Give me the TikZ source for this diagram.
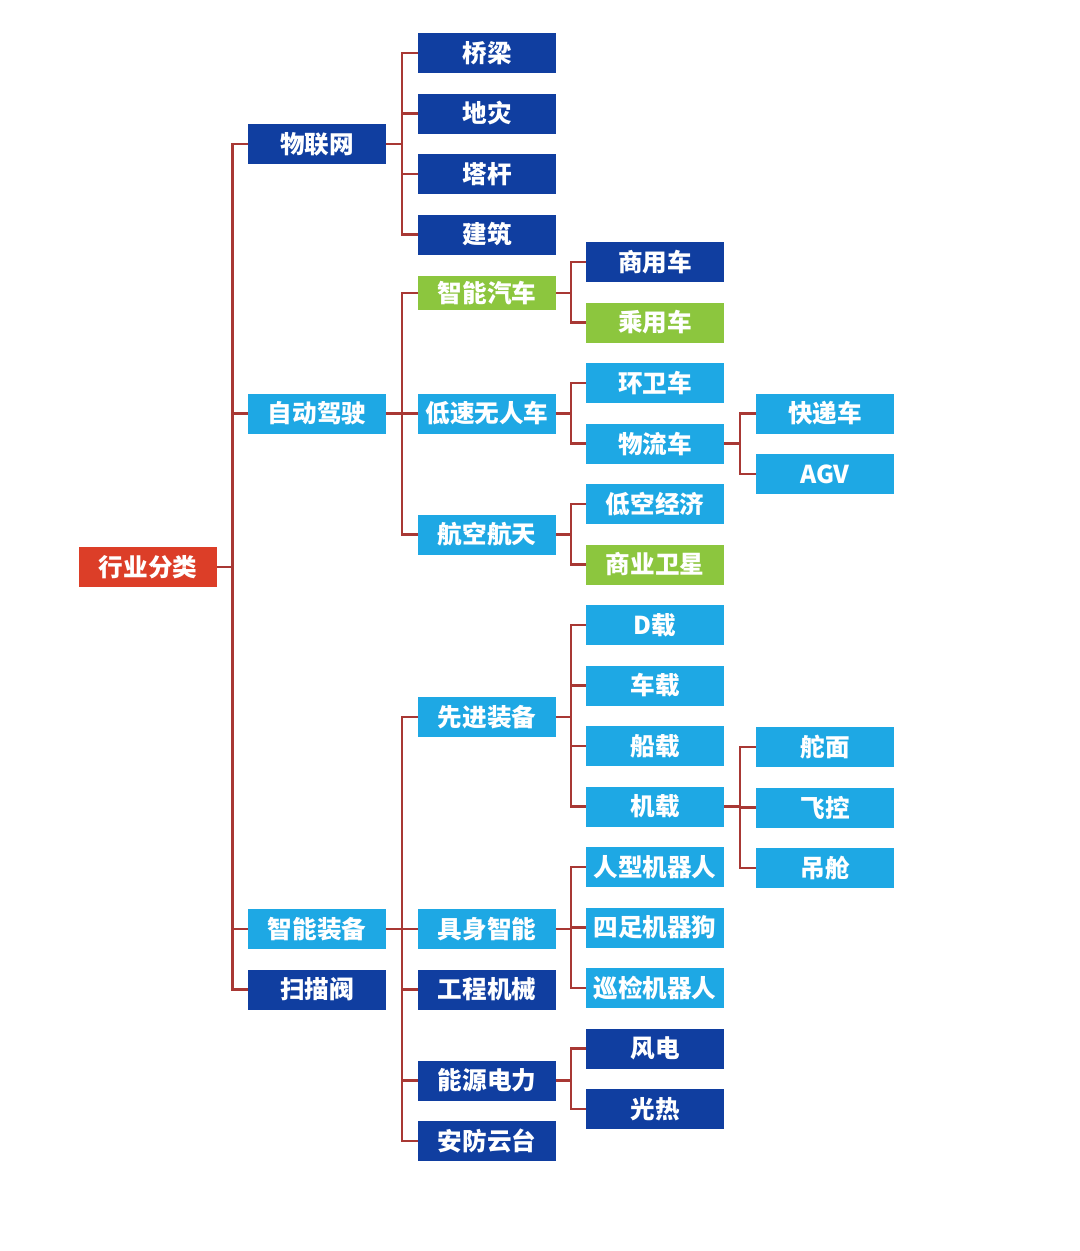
\documentclass[tikz,border=0pt]{standalone}
\usepackage{fontspec}
\usepackage{tikz}
\usetikzlibrary{positioning}

\newfontfamily\cjk{Noto Sans CJK SC}

\definecolor{darkblue}{RGB}{16,62,160}
\definecolor{lightblue}{RGB}{30,168,228}
\definecolor{leafgreen}{RGB}{140,198,62}
\definecolor{rootred}{RGB}{220,62,40}
\definecolor{linkred}{RGB}{168,56,52}

\begin{document}
\begin{tikzpicture}[
    node distance=0.41cm and 0.62cm,
    box/.style={rectangle, minimum width=2.76cm, minimum height=0.8cm, inner sep=0pt, outer sep=0pt,
                text=white, font=\cjk\bfseries\fontsize{14pt}{16pt}\selectfont},
    darkbox/.style={box, fill=darkblue},
    lightbox/.style={box, fill=lightblue},
    greenbox/.style={box, fill=leafgreen},
    rootbox/.style={box, fill=rootred},
    link/.style={draw=linkred, line width=1.5pt}
    ]
    \useasboundingbox (0,0) rectangle (21.6,-25.02);

    % Nodes
    \node[rootbox] (root) at (2.96,-11.34) {行业分类};

    \node[darkbox] (wlw) at (6.34,-2.88) {物联网};
    \node[lightbox] (zdjs) at (6.34,-8.27) {自动驾驶};
    \node[lightbox] (znzb) at (6.34,-18.58) {智能装备};
    \node[darkbox, below=of znzb] (smf) {扫描阀};

    \node[darkbox] (ql) at (9.74,-1.06) {桥梁};
    \node[darkbox, below=of ql] (dz) {地灾};
    \node[darkbox, below=of dz] (tg) {塔杆};
    \node[darkbox, below=of tg] (jz) {建筑};
    \node[greenbox, minimum height=0.68cm] (znqc) at (9.74,-5.86) {智能汽车};
    \node[lightbox] (dswrc) at (9.74,-8.27) {低速无人车};
    \node[lightbox] (hkht) at (9.74,-10.69) {航空航天};
    \node[lightbox] (xjzb) at (9.74,-14.34) {先进装备};
    \node[lightbox] (jszn) at (9.74,-18.58) {具身智能};
    \node[darkbox, below=of jszn] (gcjx) {工程机械};
    \node[darkbox] (nydl) at (9.74,-21.61) {能源电力};
    \node[darkbox, below=of nydl] (afyt) {安防云台};

    \node[darkbox] (syc) at (13.1,-5.24) {商用车};
    \node[greenbox, below=of syc] (cyc) {乘用车};
    \node[lightbox, below=of cyc] (hwc) {环卫车};
    \node[lightbox, below=of hwc] (wlc) {物流车};
    \node[lightbox, below=of wlc] (dkjj) {低空经济};
    \node[greenbox, below=of dkjj] (syws) {商业卫星};
    \node[lightbox, below=of syws] (dzai) {D载};
    \node[lightbox, below=of dzai] (czai) {车载};
    \node[lightbox, below=of czai] (chuanzai) {船载};
    \node[lightbox, below=of chuanzai] (jzai) {机载};
    \node[lightbox, below=of jzai] (rxjqr) {人型机器人};
    \node[lightbox, below=of rxjqr] (szjqg) {四足机器狗};
    \node[lightbox, below=of szjqg] (xjjqr) {巡检机器人};
    \node[darkbox, below=of xjjqr] (fd) {风电};
    \node[darkbox, below=of fd] (gr) {光热};

    \node[lightbox] (kdc) at (16.5,-8.27) {快递车};
    \node[lightbox, below=of kdc] (agv) {AGV};
    \node[lightbox] (dm) at (16.5,-14.94) {舵面};
    \node[lightbox, below=of dm] (fk) {飞控};
    \node[lightbox, below=of fk] (dc) {吊舱};

    % Connectors
    \foreach \c in {wlw, zdjs, znzb, smf}
        \draw[link] (root.east) -- ++(0.31,0) |- (\c.west);

    \foreach \c in {ql, dz, tg, jz}
        \draw[link] (wlw.east) -- ++(0.32,0) |- (\c.west);

    \foreach \c in {znqc, dswrc, hkht}
        \draw[link] (zdjs.east) -- ++(0.32,0) |- (\c.west);

    \foreach \c in {xjzb, jszn, gcjx, nydl, afyt}
        \draw[link] (znzb.east) -- ++(0.32,0) |- (\c.west);

    \foreach \c in {syc, cyc}
        \draw[link] (znqc.east) -- ++(0.3,0) |- (\c.west);

    \foreach \c in {hwc, wlc}
        \draw[link] (dswrc.east) -- ++(0.3,0) |- (\c.west);

    \foreach \c in {dkjj, syws}
        \draw[link] (hkht.east) -- ++(0.3,0) |- (\c.west);

    \foreach \c in {dzai, czai, chuanzai, jzai}
        \draw[link] (xjzb.east) -- ++(0.3,0) |- (\c.west);

    \foreach \c in {rxjqr, szjqg, xjjqr}
        \draw[link] (jszn.east) -- ++(0.3,0) |- (\c.west);

    \foreach \c in {fd, gr}
        \draw[link] (nydl.east) -- ++(0.3,0) |- (\c.west);

    \foreach \c in {kdc, agv}
        \draw[link] (wlc.east) -- ++(0.32,0) |- (\c.west);

    \foreach \c in {dm, fk, dc}
        \draw[link] (jzai.east) -- ++(0.32,0) |- (\c.west);

\end{tikzpicture}
\end{document}
